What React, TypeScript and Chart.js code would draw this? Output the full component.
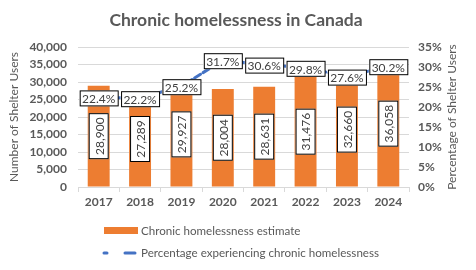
import React, { useEffect, useRef } from 'react';
import { Chart, registerables } from 'chart.js';

Chart.register(...registerables);

const chartTitle = 'Chronic homelessness in Canada';
const years = ['2017', '2018', '2019', '2020', '2021', '2022', '2023', '2024'];
const estimates = [28900, 27289, 29927, 28004, 28631, 31476, 32660, 36058];
const percentages = [22.4, 22.2, 25.2, 31.7, 30.6, 29.8, 27.6, 30.2];
const barLabel = 'Chronic homelessness estimate';
const lineLabel = 'Percentage experiencing chronic homelessness';
const leftAxisTitle = 'Number of Shelter Users';
const rightAxisTitle = 'Percentage of Shelter Users';
const countMax = 40000;
const countStep = 5000;
const pctMax = 35;
const pctStep = 5;

const FONT = 'Lato, "Open Sans", sans-serif';
const GRAY = '#595959';
const ORANGE = '#ED7D31';
const BLUE = '#4472C4';

function drawBox(ctx: CanvasRenderingContext2D, text: string, cx: number, cy: number, rotate: boolean) {
  ctx.save();
  ctx.translate(cx, cy);
  if (rotate) ctx.rotate(-Math.PI / 2);
  ctx.font = `12px ${FONT}`;
  const w = ctx.measureText(text).width;
  const bw = Math.round(w + (rotate ? 8 : 6));
  const bh = rotate ? 20 : 16;
  ctx.fillStyle = '#ffffff';
  ctx.fillRect(-bw / 2, -bh / 2, bw, bh);
  ctx.strokeStyle = '#000000';
  ctx.lineWidth = 1;
  ctx.strokeRect(Math.round(-bw / 2) + 0.5, Math.round(-bh / 2) + 0.5, bw - 1, bh - 1);
  ctx.fillStyle = '#404040';
  ctx.textAlign = 'center';
  ctx.textBaseline = 'middle';
  ctx.fillText(text, 0, 1);
  ctx.restore();
}

const labelsPlugin = {
  id: 'customLabels',
  afterDatasetsDraw(chart: any) {
    const ctx = chart.ctx as CanvasRenderingContext2D;
    const barMeta = chart.getDatasetMeta(0);
    barMeta.data.forEach((el: any, i: number) => {
      const cy = (el.y + el.base) / 2;
      drawBox(ctx, estimates[i].toLocaleString('en-US'), el.x, cy, true);
    });
    const lineMeta = chart.getDatasetMeta(1);
    lineMeta.data.forEach((el: any, i: number) => {
      drawBox(ctx, percentages[i].toFixed(1) + '%', el.x, el.y + 1, false);
    });
  },
  afterDraw(chart: any) {
    const ctx = chart.ctx as CanvasRenderingContext2D;
    const area = chart.chartArea;
    ctx.save();
    // title
    ctx.font = `bold 17.5px ${FONT}`;
    ctx.fillStyle = GRAY;
    ctx.textAlign = 'center';
    ctx.textBaseline = 'middle';
    ctx.fillText(chartTitle, chart.width / 2 - 2, 20);
    // right axis title
    ctx.save();
    ctx.translate(452, (area.top + area.bottom) / 2);
    ctx.rotate(-Math.PI / 2);
    ctx.font = `12px ${FONT}`;
    ctx.fillText(rightAxisTitle, 0, 0);
    ctx.restore();
    // legend
    ctx.fillStyle = ORANGE;
    ctx.fillRect(104, 227, 34, 7);
    ctx.strokeStyle = BLUE;
    ctx.lineWidth = 3;
    ctx.lineCap = 'round';
    ctx.beginPath();
    ctx.moveTo(104, 253);
    ctx.lineTo(107, 253);
    ctx.moveTo(125, 253);
    ctx.lineTo(135, 253);
    ctx.stroke();
    ctx.fillStyle = GRAY;
    ctx.font = `11.6px ${FONT}`;
    ctx.textAlign = 'left';
    ctx.fillText(barLabel, 141, 231);
    ctx.fillText(lineLabel, 141, 253);
    ctx.restore();
  },
};

export default function App() {
  const ref = useRef<HTMLCanvasElement | null>(null);
  useEffect(() => {
    if (!ref.current) return;
    const chart = new Chart(ref.current, {
      type: 'bar',
      data: {
        labels: years,
        datasets: [
          {
            type: 'bar',
            label: barLabel,
            data: estimates,
            backgroundColor: ORANGE,
            barPercentage: 0.53,
            categoryPercentage: 1,
            yAxisID: 'y',
            order: 2,
          },
          {
            type: 'line',
            label: lineLabel,
            data: percentages,
            borderColor: BLUE,
            borderWidth: 3,
            borderDash: [7, 3],
            borderCapStyle: 'round',
            pointRadius: 0,
            tension: 0,
            fill: false,
            yAxisID: 'y1',
            order: 1,
          } as any,
        ],
      },
      options: {
        animation: false,
        responsive: false,
        devicePixelRatio: 1,
        layout: { padding: { top: 47, left: 0, right: 0, bottom: 58 } },
        plugins: {
          legend: { display: false },
          title: { display: false },
          tooltip: { enabled: false },
        },
        scales: {
          x: {
            grid: {
              display: true,
              drawOnChartArea: false,
              drawTicks: true,
              tickLength: 5,
              color: '#d9d9d9',
              offset: true,
            },
            border: { display: true, color: '#d9d9d9' },
            ticks: {
              color: GRAY,
              font: { family: FONT, size: 12, weight: 'bold' },
              padding: 3,
            },
            afterFit: (s: any) => {
              s.height = 25;
            },
          },
          y: {
            position: 'left',
            min: 0,
            max: countMax,
            grid: { color: '#d9d9d9', drawTicks: false },
            border: { display: false },
            ticks: {
              stepSize: countStep,
              color: GRAY,
              font: { family: FONT, size: 12, weight: 'bold' },
              padding: 11,
              callback: (v: any) => Number(v).toLocaleString('en-US'),
            },
            title: {
              display: true,
              text: leftAxisTitle,
              color: GRAY,
              font: { family: FONT, size: 12, weight: 'normal' },
              padding: { top: 7, bottom: 0 },
            },
            afterFit: (s: any) => {
              s.width = 78;
            },
          },
          y1: {
            position: 'right',
            min: 0,
            max: pctMax,
            grid: { drawOnChartArea: false, drawTicks: false },
            border: { display: false },
            ticks: {
              stepSize: pctStep,
              color: GRAY,
              font: { family: FONT, size: 12, weight: 'bold' },
              padding: 9,
              callback: (v: any) => v + '%',
            },
            afterFit: (s: any) => {
              s.width = 67;
            },
          },
        },
      },
      plugins: [labelsPlugin],
    });
    return () => chart.destroy();
  }, []);
  return (
    <div style={{ position: 'fixed', left: 0, top: 0, width: 476, height: 270, background: '#fff' }}>
      <canvas ref={ref} width={476} height={270} style={{ width: 476, height: 270, display: 'block' }} />
    </div>
  );
}
